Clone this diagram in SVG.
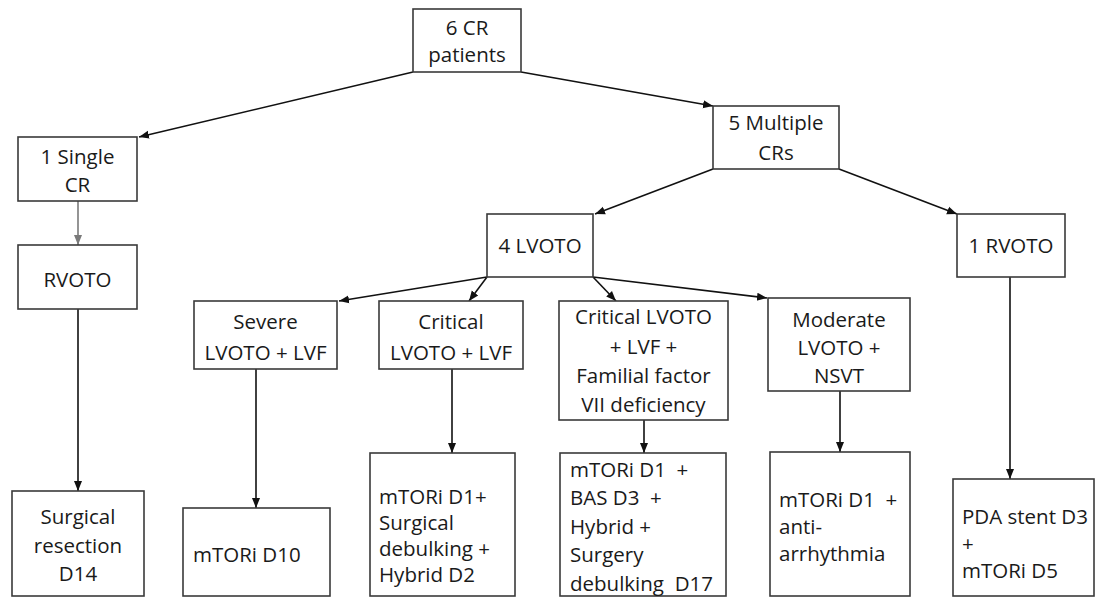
<svg xmlns="http://www.w3.org/2000/svg" width="1096" height="598" viewBox="0 0 1096 598">
<style>
  .box { fill: #ffffff; stroke: #3a3a3a; stroke-width: 1.6; }
  text { font-family: "Open Sans", "Liberation Sans", sans-serif; font-size: 20.5px; fill: #1a1a1a; white-space: pre; }
  .c { text-anchor: middle; }
  .edge { stroke: #111111; stroke-width: 1.6; fill: none; marker-end: url(#ah); }
  .edge.gray { stroke: #7a7a7a; marker-end: url(#ahg); }
</style>
<defs>
  <marker id="ah" markerUnits="userSpaceOnUse" markerWidth="10" markerHeight="10" viewBox="0 0 10 10" refX="10" refY="5" orient="auto">
    <path d="M0,1 L10,5 L0,9 z" fill="#111111"/>
  </marker>
  <marker id="ahg" markerUnits="userSpaceOnUse" markerWidth="10" markerHeight="10" viewBox="0 0 10 10" refX="10" refY="5" orient="auto">
    <path d="M0,1 L10,5 L0,9 z" fill="#7a7a7a"/>
  </marker>
</defs>
<rect width="1096" height="598" fill="#ffffff"/>

<g id="connectors">
  <line class="edge" x1="413" y1="72" x2="139" y2="137"/>
  <line class="edge" x1="521" y1="72" x2="713" y2="106"/>
  <line class="edge gray" x1="78" y1="201" x2="78" y2="245"/>
  <line class="edge" x1="78" y1="309" x2="78" y2="491"/>
  <line class="edge" x1="713" y1="169" x2="595" y2="214"/>
  <line class="edge" x1="839" y1="169" x2="957" y2="214"/>
  <line class="edge" x1="487" y1="277" x2="339" y2="301"/>
  <line class="edge" x1="487" y1="277" x2="469" y2="301"/>
  <line class="edge" x1="593" y1="277" x2="616" y2="301"/>
  <line class="edge" x1="593" y1="277" x2="767" y2="298"/>
  <line class="edge" x1="1010" y1="277" x2="1010" y2="479"/>
  <line class="edge" x1="256" y1="369" x2="256" y2="508"/>
  <line class="edge" x1="452" y1="369" x2="452" y2="453"/>
  <line class="edge" x1="644" y1="420" x2="644" y2="453"/>
  <line class="edge" x1="840" y1="391" x2="840" y2="452"/>
</g>

<g id="n-root">
  <rect class="box" x="413" y="9" width="108" height="63"/>
  <text class="c" x="467" y="35">6 CR</text>
  <text class="c" x="467" y="62">patients</text>
</g>

<g id="n-single">
  <rect class="box" x="18" y="137" width="119" height="64"/>
  <text class="c" x="77.5" y="164">1 Single</text>
  <text class="c" x="77.5" y="192">CR</text>
</g>

<g id="n-rvoto-single">
  <rect class="box" x="18" y="245" width="119" height="64"/>
  <text class="c" x="77.5" y="287">RVOTO</text>
</g>

<g id="n-surgical">
  <rect class="box" x="12" y="491" width="132" height="105"/>
  <text class="c" x="78" y="524">Surgical</text>
  <text class="c" x="78" y="553">resection</text>
  <text class="c" x="78" y="581">D14</text>
</g>

<g id="n-multiple">
  <rect class="box" x="713" y="106" width="126" height="63"/>
  <text class="c" x="776" y="130">5 Multiple</text>
  <text class="c" x="776" y="160">CRs</text>
</g>

<g id="n-lvoto">
  <rect class="box" x="487" y="214" width="106" height="63"/>
  <text class="c" x="540" y="253">4 LVOTO</text>
</g>

<g id="n-rvoto">
  <rect class="box" x="957" y="214" width="108" height="63"/>
  <text class="c" x="1011" y="253">1 RVOTO</text>
</g>

<g id="n-severe">
  <rect class="box" x="194" y="301" width="143" height="68"/>
  <text class="c" x="265.5" y="329">Severe</text>
  <text class="c" x="265.5" y="360">LVOTO + LVF</text>
</g>

<g id="n-critical">
  <rect class="box" x="379" y="301" width="144" height="68"/>
  <text class="c" x="451" y="329">Critical</text>
  <text class="c" x="451" y="360">LVOTO + LVF</text>
</g>

<g id="n-critical-f7">
  <rect class="box" x="559" y="301" width="169" height="119"/>
  <text class="c" x="643.5" y="324">Critical LVOTO</text>
  <text class="c" x="643.5" y="354">+ LVF +</text>
  <text class="c" x="643.5" y="383">Familial factor</text>
  <text class="c" x="643.5" y="412">VII deficiency</text>
</g>

<g id="n-moderate">
  <rect class="box" x="768" y="298" width="142" height="93"/>
  <text class="c" x="839" y="327">Moderate</text>
  <text class="c" x="839" y="355">LVOTO +</text>
  <text class="c" x="839" y="383">NSVT</text>
</g>

<g id="n-d10">
  <rect class="box" x="183" y="508" width="147" height="88"/>
  <text x="193" y="562">mTORi D10</text>
</g>

<g id="n-d1-surg">
  <rect class="box" x="370" y="453" width="145" height="143"/>
  <text x="379" y="504">mTORi D1+</text>
  <text x="379" y="530">Surgical</text>
  <text x="379" y="556">debulking +</text>
  <text x="379" y="582">Hybrid D2</text>
</g>

<g id="n-d1-bas">
  <rect class="box" x="560" y="453" width="166" height="143"/>
  <text x="570" y="477">mTORi D1  +</text>
  <text x="570" y="505">BAS D3  +</text>
  <text x="570" y="534">Hybrid +</text>
  <text x="570" y="562">Surgery</text>
  <text x="570" y="591">debulking  D17</text>
</g>

<g id="n-d1-anti">
  <rect class="box" x="770" y="452" width="140" height="144"/>
  <text x="779" y="507">mTORi D1  +</text>
  <text x="779" y="534">anti-</text>
  <text x="779" y="561">arrhythmia</text>
</g>

<g id="n-pda">
  <rect class="box" x="953" y="479" width="141" height="117"/>
  <text x="962" y="524">PDA stent D3</text>
  <text x="962" y="551">+</text>
  <text x="962" y="578">mTORi D5</text>
</g>
</svg>
